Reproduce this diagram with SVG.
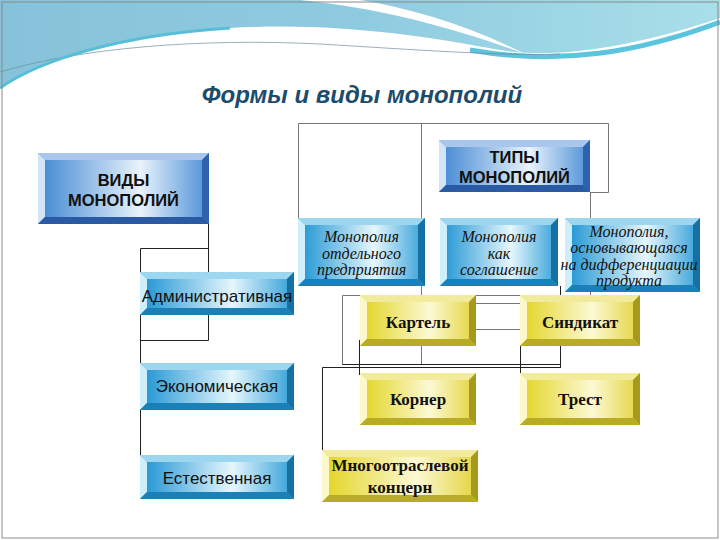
<svg xmlns="http://www.w3.org/2000/svg" width="720" height="540" viewBox="0 0 720 540">
<defs>
<linearGradient id="skyG" x1="0" y1="0" x2="1" y2="0">
<stop offset="0" stop-color="#86c3da"/><stop offset="0.5" stop-color="#8fcbe0"/><stop offset="1" stop-color="#a9dfe9"/>
</linearGradient>
<linearGradient id="faceNavy" x1="0" y1="0" x2="1" y2="0">
<stop offset="0" stop-color="#3f86d2"/><stop offset="0.6" stop-color="#e9f3fb"/><stop offset="1" stop-color="#4a8ed6"/>
</linearGradient>
<linearGradient id="faceCyan" x1="0" y1="0" x2="1" y2="0">
<stop offset="0" stop-color="#1a92d2"/><stop offset="0.6" stop-color="#e6f6fc"/><stop offset="1" stop-color="#309fd8"/>
</linearGradient>
<linearGradient id="faceYel" x1="0" y1="0" x2="1" y2="0">
<stop offset="0" stop-color="#e2d31e"/><stop offset="0.6" stop-color="#fcf9d4"/><stop offset="1" stop-color="#e3d33a"/>
</linearGradient>
<style>
.navy .t{fill:#a9c6ec}.navy .l{fill:#d3e4f7}.navy .r{fill:#2f62ac}.navy .b{fill:#2a5aa4}.navy .f{fill:url(#faceNavy)}
.cyan .t{fill:#9dd6ef}.cyan .l{fill:#cdeefa}.cyan .r{fill:#1670a4}.cyan .b{fill:#1b80b8}.cyan .f{fill:url(#faceCyan)}
.yel .t{fill:#f2eb9c}.yel .l{fill:#fbf8cc}.yel .r{fill:#a69a1e}.yel .b{fill:#b8ab26}.yel .f{fill:url(#faceYel)}
.hdr{font-family:"Liberation Sans",Arial,sans-serif;font-weight:bold;font-size:16.5px;fill:#111;text-anchor:middle}
.sans{font-family:"Liberation Sans",Arial,sans-serif;font-size:17px;fill:#111;text-anchor:middle}
.ital{font-family:"Liberation Serif","Times New Roman",serif;font-style:italic;font-size:16px;fill:#111;text-anchor:middle}
.ser{font-family:"Liberation Serif","Times New Roman",serif;font-weight:bold;font-size:17px;fill:#111;text-anchor:middle}
.ln{fill:none;stroke:#222;stroke-width:1}
.lg{fill:none;stroke:#777;stroke-width:1}
</style>
</defs>

<g id="background">
<rect x="0" y="0" width="720" height="540" fill="#ffffff"/>
<path d="M0,0 H720 V18 C640,45 560,60 500,50 C420,35 330,22 230,28 C120,35 40,60 0,88 Z" fill="url(#skyG)"/>
<path d="M300,0 C380,8 455,28 525,54 C470,26 410,8 360,0 Z" fill="#ffffff"/>
<path d="M470,50 C560,66 640,52 720,22" fill="none" stroke="#5cc4dc" stroke-width="5"/>
<path d="M0,72 C80,48 200,38 320,44 C420,50 500,56 560,54" fill="none" stroke="#6d8d9c" stroke-width="1" opacity="0.7"/>
<path d="M0,88 C40,60 120,35 230,28" fill="none" stroke="#56bfd8" stroke-width="3"/>
<rect x="2" y="2" width="716" height="536" fill="none" stroke="#8a8a8a" stroke-width="1"/>
</g>

<g id="title">
<text x="362" y="103" font-family="'Liberation Sans',Arial,sans-serif" font-weight="bold" font-style="italic" font-size="24" fill="#1c4c6c" text-anchor="middle">Формы и виды монополий</text>
</g>

<g id="connectors">
<path class="lg" d="M298.5,218 V123.5 H608.5 V192.5 H590 M421.5,123.5 V365 M590.5,192 V295"/>
<path class="ln" d="M208.5,223 V340.5 H140.5 M208.5,248.5 H140.5 V478"/>
<path class="lg" d="M342.5,365 V295.5 H520 M476,303.5 H520 M476,329.5 H520"/>
<path class="ln" d="M560.5,286 V368 M342.5,364.5 H560.5 M322.5,450 V367.5 H560.5 M359.5,340 V375 M520.5,340 V375"/>
</g>

<g id="vidy" class="navy">
<rect class="f" x="38" y="153" width="171" height="71"/>
<polygon class="t" points="38,153 209,153 202,160 45,160"/>
<polygon class="l" points="38,153 45,160 45,217 38,224"/>
<polygon class="r" points="209,153 209,224 202,217 202,160"/>
<polygon class="b" points="38,224 209,224 202,217 45,217"/>
<text class="hdr" x="123.5" y="186">ВИДЫ</text>
<text class="hdr" x="123.5" y="206">МОНОПОЛИЙ</text>
</g>

<g id="tipy" class="navy">
<rect class="f" x="439" y="140" width="151" height="52"/>
<polygon class="t" points="439,140 590,140 583,147 446,147"/>
<polygon class="l" points="439,140 446,147 446,185 439,192"/>
<polygon class="r" points="590,140 590,192 583,185 583,147"/>
<polygon class="b" points="439,192 590,192 583,185 446,185"/>
<text class="hdr" x="514.5" y="163">ТИПЫ</text>
<text class="hdr" x="514.5" y="183">МОНОПОЛИЙ</text>
</g>

<g id="otdelnogo" class="cyan">
<rect class="f" x="298" y="218" width="127" height="68"/>
<polygon class="t" points="298,218 425,218 418,225 305,225"/>
<polygon class="l" points="298,218 305,225 305,279 298,286"/>
<polygon class="r" points="425,218 425,286 418,279 418,225"/>
<polygon class="b" points="298,286 425,286 418,279 305,279"/>
<text class="ital" x="361.5" y="242">Монополия</text>
<text class="ital" x="361.5" y="259">отдельного</text>
<text class="ital" x="361.5" y="275">предприятия</text>
</g>

<g id="soglashenie" class="cyan">
<rect class="f" x="440" y="218" width="118" height="68"/>
<polygon class="t" points="440,218 558,218 551,225 447,225"/>
<polygon class="l" points="440,218 447,225 447,279 440,286"/>
<polygon class="r" points="558,218 558,286 551,279 551,225"/>
<polygon class="b" points="440,286 558,286 551,279 447,279"/>
<text class="ital" x="499" y="242">Монополия</text>
<text class="ital" x="499" y="259">как</text>
<text class="ital" x="499" y="275">соглашение</text>
</g>

<g id="differ" class="cyan">
<rect class="f" x="565" y="218" width="135" height="74"/>
<polygon class="t" points="565,218 700,218 693,225 572,225"/>
<polygon class="l" points="565,218 572,225 572,285 565,292"/>
<polygon class="r" points="700,218 700,292 693,285 693,225"/>
<polygon class="b" points="565,292 700,292 693,285 572,285"/>
<text class="ital" x="629" y="237">Монополия,</text>
<text class="ital" x="629" y="253">основывающаяся</text>
<text class="ital" x="629" y="270">на дифференциации</text>
<text class="ital" x="629" y="286">продукта</text>
</g>

<g id="admin" class="cyan">
<rect class="f" x="140" y="272" width="154" height="43"/>
<polygon class="t" points="140,272 294,272 287,279 147,279"/>
<polygon class="l" points="140,272 147,279 147,308 140,315"/>
<polygon class="r" points="294,272 294,315 287,308 287,279"/>
<polygon class="b" points="140,315 294,315 287,308 147,308"/>
<text class="sans" x="217" y="302">Административная</text>
</g>

<g id="econom" class="cyan">
<rect class="f" x="140" y="363" width="154" height="47"/>
<polygon class="t" points="140,363 294,363 287,370 147,370"/>
<polygon class="l" points="140,363 147,370 147,403 140,410"/>
<polygon class="r" points="294,363 294,410 287,403 287,370"/>
<polygon class="b" points="140,410 294,410 287,403 147,403"/>
<text class="sans" x="217" y="392">Экономическая</text>
</g>

<g id="estestv" class="cyan">
<rect class="f" x="140" y="455" width="154" height="44"/>
<polygon class="t" points="140,455 294,455 287,462 147,462"/>
<polygon class="l" points="140,455 147,462 147,492 140,499"/>
<polygon class="r" points="294,455 294,499 287,492 287,462"/>
<polygon class="b" points="140,499 294,499 287,492 147,492"/>
<text class="sans" x="217" y="484">Естественная</text>
</g>

<g id="kartel" class="yel">
<rect class="f" x="360" y="295" width="116" height="51"/>
<polygon class="t" points="360,295 476,295 469,302 367,302"/>
<polygon class="l" points="360,295 367,302 367,339 360,346"/>
<polygon class="r" points="476,295 476,346 469,339 469,302"/>
<polygon class="b" points="360,346 476,346 469,339 367,339"/>
<text class="ser" x="418" y="328">Картель</text>
</g>

<g id="sindikat" class="yel">
<rect class="f" x="520" y="295" width="120" height="51"/>
<polygon class="t" points="520,295 640,295 633,302 527,302"/>
<polygon class="l" points="520,295 527,302 527,339 520,346"/>
<polygon class="r" points="640,295 640,346 633,339 633,302"/>
<polygon class="b" points="520,346 640,346 633,339 527,339"/>
<text class="ser" x="580" y="328">Синдикат</text>
</g>

<g id="korner" class="yel">
<rect class="f" x="360" y="373" width="116" height="52"/>
<polygon class="t" points="360,373 476,373 469,380 367,380"/>
<polygon class="l" points="360,373 367,380 367,418 360,425"/>
<polygon class="r" points="476,373 476,425 469,418 469,380"/>
<polygon class="b" points="360,425 476,425 469,418 367,418"/>
<text class="ser" x="418" y="405">Корнер</text>
</g>

<g id="trest" class="yel">
<rect class="f" x="520" y="373" width="120" height="52"/>
<polygon class="t" points="520,373 640,373 633,380 527,380"/>
<polygon class="l" points="520,373 527,380 527,418 520,425"/>
<polygon class="r" points="640,373 640,425 633,418 633,380"/>
<polygon class="b" points="520,425 640,425 633,418 527,418"/>
<text class="ser" x="580" y="405">Трест</text>
</g>

<g id="koncern" class="yel">
<rect class="f" x="322" y="450" width="156" height="52"/>
<polygon class="t" points="322,450 478,450 471,457 329,457"/>
<polygon class="l" points="322,450 329,457 329,495 322,502"/>
<polygon class="r" points="478,450 478,502 471,495 471,457"/>
<polygon class="b" points="322,502 478,502 471,495 329,495"/>
<text class="ser" x="400" y="471">Многоотраслевой</text>
<text class="ser" x="400" y="493">концерн</text>
</g>
</svg>
